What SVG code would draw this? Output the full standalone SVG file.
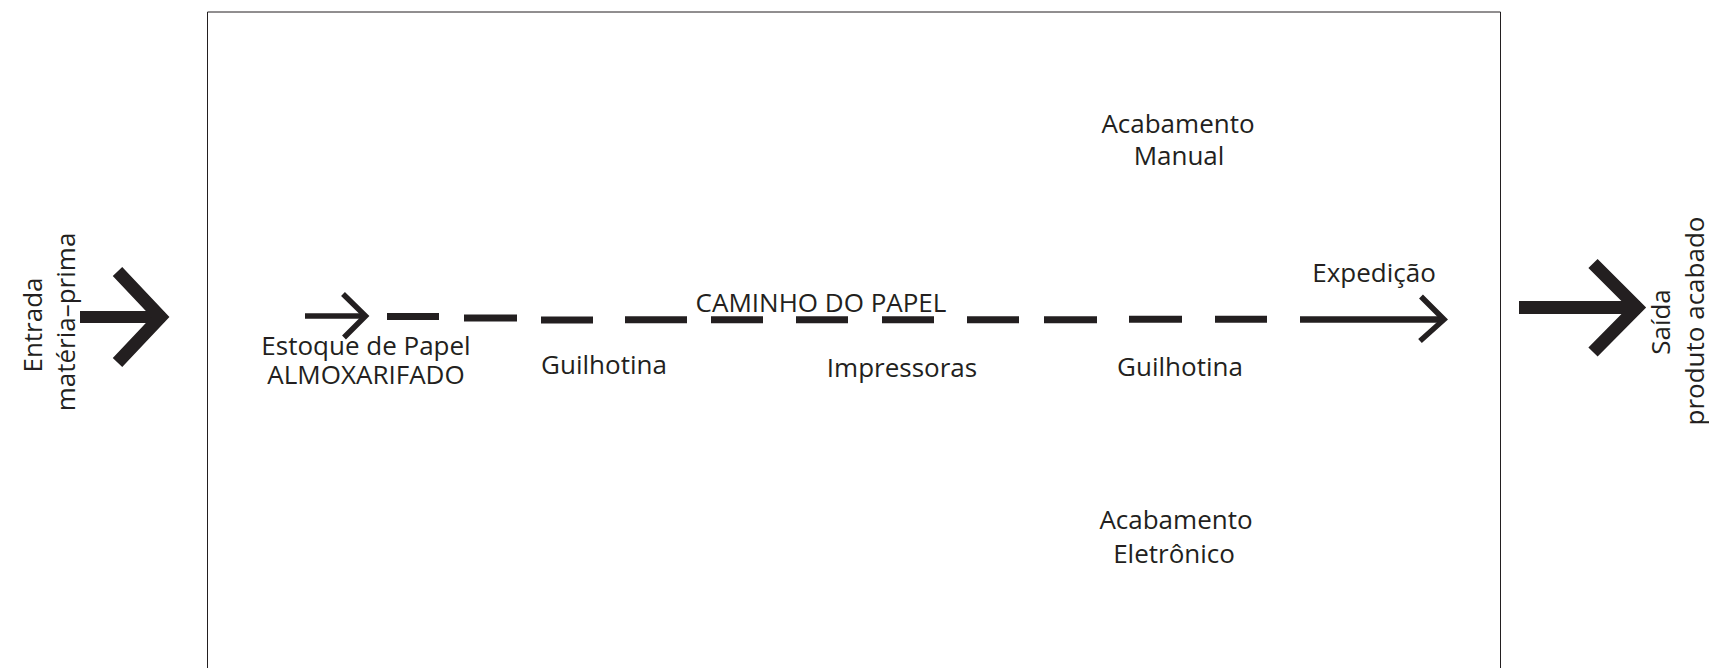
<svg xmlns="http://www.w3.org/2000/svg" width="1709" height="668" viewBox="0 0 1709 668">
<style>
  text { font-family: "Open Sans", "DejaVu Sans", sans-serif; font-size: 26px; fill: #231f20; text-anchor: middle; }
  .frame { fill: none; stroke: #231f20; stroke-width: 1; }
  .big { fill: none; stroke: #231f20; stroke-width: 13; stroke-linecap: butt; stroke-linejoin: miter; stroke-miterlimit: 10; }
  .shaft { fill: none; stroke: #231f20; stroke-linecap: butt; }
  .dash { fill: none; stroke: #231f20; stroke-width: 7; stroke-linecap: butt; }
  .head { fill: none; stroke: #231f20; stroke-width: 5.5; stroke-linecap: butt; stroke-linejoin: miter; stroke-miterlimit: 10; }
</style>
<rect width="1709" height="668" fill="#ffffff"/>

<g id="frame">
  <path class="frame" d="M207.5 668 V12 H1500.5 V668"/>
</g>

<g id="connectors">
  <!-- entrada arrow -->
  <line class="shaft" x1="80" y1="317" x2="164" y2="317" stroke-width="12"/>
  <path class="big" d="M117.5 271.5 L160.5 317 L117.5 362.5"/>
  <!-- saida arrow -->
  <line class="shaft" x1="1519" y1="307.5" x2="1640" y2="307.5" stroke-width="13"/>
  <path class="big" d="M1593 263.5 L1637 307.5 L1593 352"/>
  <!-- caminho do papel -->
  <line class="shaft" x1="305" y1="316" x2="366" y2="316" stroke-width="5.5"/>
  <path class="head" d="M343 294 L365.5 316 L344 337.5"/>
  <line class="dash" x1="387" y1="316.5" x2="439" y2="316.5"/>
  <line class="dash" x1="464" y1="318" x2="517" y2="318"/>
  <line class="dash" x1="541" y1="320" x2="593" y2="320"/>
  <line class="dash" x1="625" y1="319.7" x2="687" y2="319.7"/>
  <line class="dash" x1="711" y1="319.7" x2="763" y2="319.7"/>
  <line class="dash" x1="796" y1="319.7" x2="848" y2="319.7"/>
  <line class="dash" x1="882" y1="319.7" x2="934" y2="319.7"/>
  <line class="dash" x1="967" y1="319.7" x2="1019" y2="319.7"/>
  <line class="dash" x1="1044" y1="319.7" x2="1097" y2="319.7"/>
  <line class="dash" x1="1129" y1="319.3" x2="1182" y2="319.3"/>
  <line class="dash" x1="1215" y1="319.3" x2="1267" y2="319.3"/>
  <line class="shaft" x1="1300" y1="319.5" x2="1443" y2="319.5" stroke-width="6.5"/>
  <path class="head" d="M1421 296.5 L1444 319.5 L1420 341"/>
</g>

<g id="entrada">
  <text transform="translate(42,325) rotate(-90)">Entrada</text>
  <text transform="translate(75,322) rotate(-90)">matéria–prima</text>
</g>
<g id="saida">
  <text transform="translate(1670,322) rotate(-90)">Saída</text>
  <text transform="translate(1704,321) rotate(-90)">produto acabado</text>
</g>
<g id="estoque">
  <text x="366" y="355">Estoque de Papel</text>
  <text x="366" y="384">ALMOXARIFADO</text>
</g>
<g id="guilhotina1">
  <text x="604" y="374">Guilhotina</text>
</g>
<g id="caminho">
  <text x="821" y="312">CAMINHO DO PAPEL</text>
</g>
<g id="impressoras">
  <text x="902" y="377">Impressoras</text>
</g>
<g id="guilhotina2">
  <text x="1180" y="376">Guilhotina</text>
</g>
<g id="acabamento-manual">
  <text x="1178" y="133">Acabamento</text>
  <text x="1179" y="165">Manual</text>
</g>
<g id="acabamento-eletronico">
  <text x="1176" y="529">Acabamento</text>
  <text x="1174" y="563">Eletrônico</text>
</g>
<g id="expedicao">
  <text x="1374" y="282">Expedição</text>
</g>
</svg>
